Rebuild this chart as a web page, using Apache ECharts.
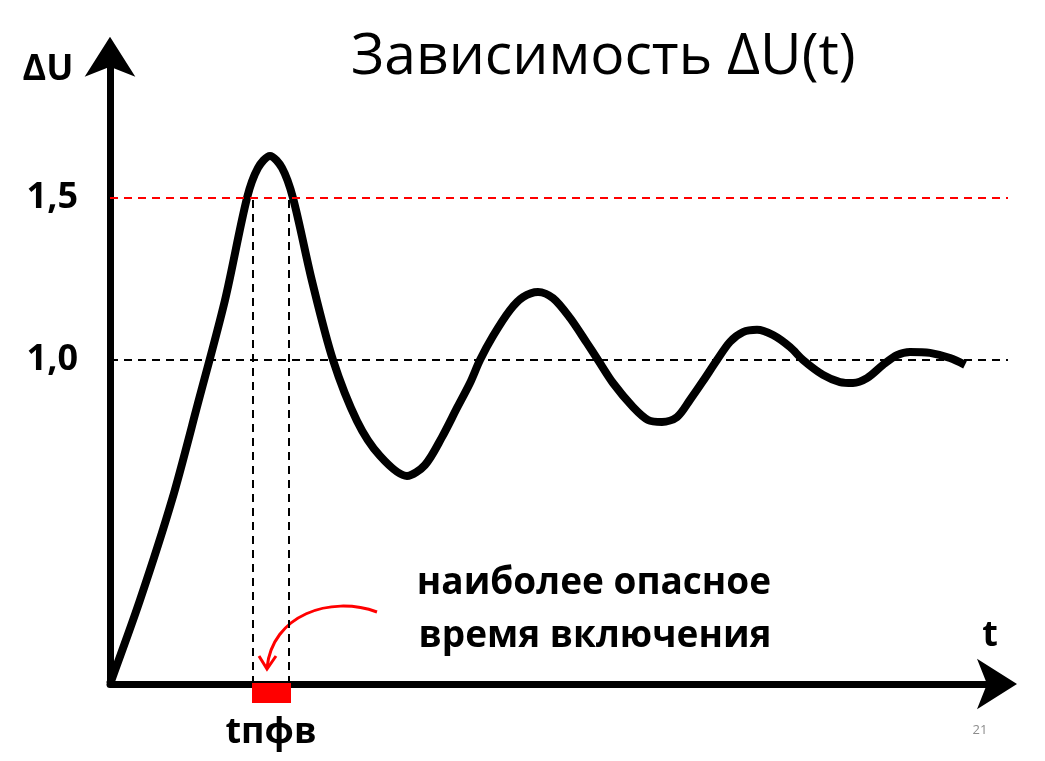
<!DOCTYPE html>
<html>
<head>
<meta charset="utf-8">
<script src="https://cdn.jsdelivr.net/npm/echarts@6/dist/echarts.min.js"></script>
<style>
    html, body { margin: 0; padding: 0; background: #fff; }
    #main { width: 1045px; height: 761px; }
</style>
</head>
<body>
<div id="main"></div>
<script>
// кривая ΔU(t), значения
var tValues = [0, 3.0, 6.2, 8.8, 11.5, 13.7, 14.8, 16.0, 17.2, 18.3,
    20.2, 22.3, 24.7, 27.0, 29.7, 31.5, 33.2, 34.7, 36.0, 37.0,
    38.3, 40.0, 41.3, 42.8, 44.3, 46.0, 47.7, 48.8, 50.3, 52.3,
    53.8, 55.2, 56.7, 58.0, 59.3, 60.7, 62.0, 63.3, 64.7, 66.3,
    68.0, 69.3, 71.3, 73.0, 74.3, 75.7, 77.3, 78.7, 80.0, 82.0,
    84.0, 85.5];
var uValues = [0, 0.259, 0.568, 0.867, 1.185, 1.5, 1.593, 1.630, 1.593, 1.5,
    1.244, 1.0, 0.812, 0.704, 0.642, 0.676, 0.762, 0.852, 0.929, 1.0,
    1.074, 1.154, 1.194, 1.210, 1.191, 1.130, 1.052, 1.0, 0.929, 0.855,
    0.815, 0.809, 0.824, 0.877, 0.935, 1.0, 1.056, 1.086, 1.093, 1.077,
    1.040, 1.0, 0.954, 0.932, 0.929, 0.944, 0.985, 1.015, 1.025, 1.022,
    1.006, 0.985];
// уровни и интервал tпфв
var levelNominal = 1.0;
var levelDanger = 1.5;
var tpfv = [14.3, 17.9];
var yTickLabels = {'1': '1,0', '1.5': '1,5'};

var FONT = '"Open Sans", "DejaVu Sans", sans-serif';

function draw_du_chart(){
    var chart = echarts.init(document.getElementById('main'));
    var curve = tValues.map(function (t, i) { return [t, uValues[i]]; });
    var xEnd = 89.8;
    var yEnd = 1.97;

    var option = {
        animation: false,
        title: {
            text: 'Зависимость ΔU(t)',
            left: 346,
            top: 24,
            textStyle: {
                fontFamily: FONT,
                fontWeight: 'normal',
                fontSize: 57,
                color: '#000'
            }
        },
        grid: {
            left: 110,
            right: 1045 - 110 - xEnd * 10,
            top: 684 - yEnd * 324,
            bottom: 77
        },
        xAxis: {
            type: 'value',
            min: 0,
            max: xEnd,
            axisLine: {
                lineStyle: { color: '#000', width: 7 },
                symbol: ['none', 'arrow'],
                symbolSize: [38, 40],
                symbolOffset: [0, 9]
            },
            axisTick: { show: false },
            axisLabel: { show: false },
            splitLine: { show: false }
        },
        yAxis: {
            type: 'value',
            min: 0,
            max: yEnd,
            interval: 0.5,
            axisLine: {
                show: true,
                lineStyle: { color: '#000', width: 7 },
                symbol: ['none', 'arrow'],
                symbolSize: [38, 40],
                symbolOffset: [0, 9]
            },
            axisTick: { show: false },
            splitLine: { show: false },
            axisLabel: {
                margin: 32,
                showMaxLabel: false,
                fontFamily: FONT,
                fontWeight: 'bold',
                fontSize: 36,
                color: '#000',
                formatter: function (v) { return yTickLabels[String(v)] || ''; }
            }
        },
        series: [{
            name: 'ΔU',
            type: 'line',
            data: curve,
            smooth: 0.3,
            symbol: 'none',
            clip: false,
            lineStyle: { color: '#000', width: 8 },
            markLine: {
                silent: true,
                symbol: 'none',
                label: { show: false },
                data: [
                    [{coord: [0, levelNominal], lineStyle: {color: '#000', width: 2, type: [8, 6]}},
                     {coord: [xEnd, levelNominal]}],
                    [{coord: [0, levelDanger], lineStyle: {color: '#ff0000', width: 2, type: [8, 6]}},
                     {coord: [xEnd, levelDanger]}],
                    [{coord: [tpfv[0], 0], lineStyle: {color: '#000', width: 2, type: [8, 6]}},
                     {coord: [tpfv[0], levelDanger]}],
                    [{coord: [tpfv[1], 0], lineStyle: {color: '#000', width: 2, type: [8, 6]}},
                     {coord: [tpfv[1], levelDanger]}]
                ]
            }
        }]
    };
    chart.setOption(option);

    // красный отрезок на оси и подписи
    var a = chart.convertToPixel({gridIndex: 0}, [tpfv[0], 0]);
    var b = chart.convertToPixel({gridIndex: 0}, [tpfv[1], 0]);
    var mid = (a[0] + b[0]) / 2;
    var bold = function (txt, x, y, size) {
        return {
            type: 'text',
            x: x, y: y,
            style: {
                text: txt,
                fill: '#000',
                font: 'bold ' + (size || 36) + 'px ' + FONT,
                textAlign: 'center',
                textVerticalAlign: 'middle'
            }
        };
    };
    chart.setOption({
        graphic: [
            {
                type: 'rect',
                shape: {x: a[0] - 1, y: a[1] - 1, width: b[0] - a[0] + 3, height: 20},
                style: {fill: '#ff0000'},
                z: 10
            },
            bold('tпфв', mid, 733),
            bold('ΔU', 48, 70),
            bold('t', 990, 636),
            bold('наиболее опасное', 594, 583, 37),
            bold('время включения', 595, 636, 37),
            {
                type: 'bezierCurve',
                shape: {x1: 377, y1: 612, cpx1: 330, cpy1: 595, cpx2: 272, cpy2: 615, x2: 267, y2: 668},
                style: {stroke: '#ff0000', lineWidth: 3, fill: null}
            },
            {
                type: 'polyline',
                shape: {points: [[259, 656], [267, 669], [276, 656]]},
                style: {stroke: '#ff0000', lineWidth: 3, fill: null}
            },
            {
                type: 'text',
                x: 980, y: 730,
                style: {
                    text: '21',
                    fill: '#8c8c8c',
                    font: '13px ' + FONT,
                    textAlign: 'center',
                    textVerticalAlign: 'middle'
                }
            }
        ]
    });
}
draw_du_chart();
</script>
</body>
</html>
